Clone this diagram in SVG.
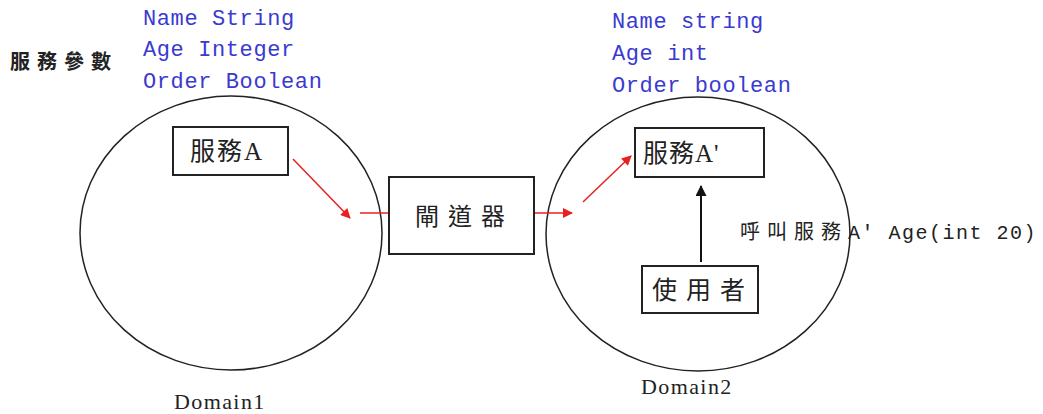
<svg xmlns="http://www.w3.org/2000/svg" width="1043" height="414" viewBox="0 0 1043 414">
<style>
.dom{fill:none;stroke:#222;stroke-width:1.5}
.box{fill:#fff;stroke:#222;stroke-width:2}
.lbl{font-family:"Liberation Serif","Noto Sans CJK TC",serif;fill:#222}
.mono{font-family:"Liberation Mono","Noto Sans CJK TC",monospace;fill:#222}
.blue{font-family:"Liberation Mono","DejaVu Sans Mono",monospace;fill:#3a3ad0;font-size:22px;letter-spacing:0.6px}
.red{stroke:#e82020;stroke-width:1.5;fill:none}
</style>
<defs>
<marker id="ra" viewBox="0 0 10 10" refX="9" refY="5" markerWidth="11" markerHeight="10" orient="auto" markerUnits="userSpaceOnUse">
<path d="M0,0 L10,5 L0,10 z" fill="#e82020"/>
</marker>
<marker id="ba" viewBox="0 0 10 10" refX="9" refY="5" markerWidth="12" markerHeight="11" orient="auto" markerUnits="userSpaceOnUse">
<path d="M0,0 L10,5 L0,10 z" fill="#111"/>
</marker>
</defs>
<rect width="1043" height="414" fill="#fff"/>
<g id="domain1">
<ellipse class="dom" cx="231" cy="233" rx="151" ry="137"/>
<text class="lbl" x="174" y="409" font-size="22" letter-spacing="1.4">Domain1</text>
</g>
<g id="domain2">
<ellipse class="dom" cx="698" cy="234" rx="152" ry="137"/>
<text class="lbl" x="641" y="394" font-size="22" letter-spacing="1.4">Domain2</text>
</g>
<g id="params-label">
<text class="lbl" x="10" y="69" font-size="20" letter-spacing="7" font-weight="bold">服務參數</text>
</g>
<g id="params1">
<text class="blue" x="143" y="25">Name String</text>
<text class="blue" x="143" y="56">Age Integer</text>
<text class="blue" x="143" y="88">Order Boolean</text>
</g>
<g id="params2">
<text class="blue" x="612" y="28">Name string</text>
<text class="blue" x="612" y="60">Age int</text>
<text class="blue" x="612" y="92">Order boolean</text>
</g>
<g id="connectors">
<line class="red" x1="293" y1="159" x2="350" y2="218" marker-end="url(#ra)"/>
<line class="red" x1="360" y1="213" x2="389" y2="213"/>
<line class="red" x1="534" y1="213" x2="572" y2="213" marker-end="url(#ra)"/>
<line class="red" x1="583" y1="202" x2="631" y2="156" marker-end="url(#ra)"/>
<line x1="701" y1="262" x2="701" y2="186" stroke="#111" stroke-width="2" marker-end="url(#ba)"/>
</g>
<g id="serviceA">
<rect class="box" x="173" y="127" width="115" height="48"/>
<text class="lbl" x="190" y="160" font-size="25" letter-spacing="2">服務A</text>
</g>
<g id="gateway">
<rect class="box" x="389" y="177" width="145" height="77"/>
<text class="lbl" x="415" y="225" font-size="24" letter-spacing="9">閘道器</text>
</g>
<g id="serviceA2">
<rect class="box" x="635" y="128" width="129" height="49"/>
<text class="lbl" x="643" y="162" font-size="25" letter-spacing="1">服務A'</text>
</g>
<g id="user">
<rect class="box" x="642" y="266" width="116" height="47"/>
<text class="lbl" x="652" y="299" font-size="25" letter-spacing="9">使用者</text>
</g>
<g id="call-label">
<text class="mono" x="740" y="239" font-size="20"><tspan letter-spacing="7">呼叫服務</tspan><tspan letter-spacing="1.5">A' Age(int 20)</tspan></text>
</g>
</svg>
